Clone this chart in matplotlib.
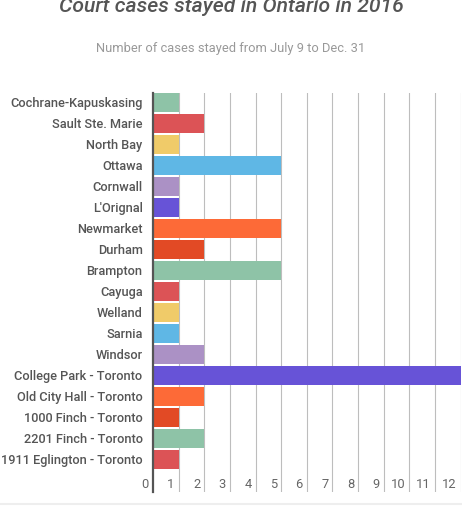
import matplotlib
matplotlib.use("Agg")
import matplotlib.pyplot as plt
import matplotlib.transforms as mtransforms

plt.rcParams['font.family'] = ['Roboto', 'DejaVu Sans']

# data
courts = ['Cochrane-Kapuskasing', 'Sault Ste. Marie', 'North Bay', 'Ottawa',
          'Cornwall', "L'Orignal", 'Newmarket', 'Durham', 'Brampton', 'Cayuga',
          'Welland', 'Sarnia', 'Windsor', 'College Park - Toronto',
          'Old City Hall - Toronto', '1000 Finch - Toronto',
          '2201 Finch - Toronto', '1911 Eglington - Toronto']
cases = [1, 2, 1, 5, 1, 1, 5, 2, 5, 1, 1, 1, 2, 12, 2, 1, 2, 1]
x_ticks = list(range(0, 13))

palette = ['#8ec3a7', '#dc5356', '#f0cb69', '#5fb7e5',
           '#ab91c5', '#6753d7', '#fd6a37', '#e24a25']
colors = [palette[i % len(palette)] for i in range(len(courts))]

W, H = 462, 508
fig = plt.figure(figsize=(W / 100, H / 100), dpi=100, facecolor='white')
ax = fig.add_axes([153 / W, 1 - 492 / H, (460.5 - 153) / W, (492 - 93) / H])

ypos = list(range(len(courts)))
ax.barh(ypos, cases, height=0.9, color=colors, zorder=3)

ax.set_xlim(0, 12)
ax.set_ylim(18.55, -0.45)

# vertical grid lines
for v in x_ticks[1:]:
    ax.axvline(v, color='#bdbdbd', lw=0.8, zorder=1)

for s in ['top', 'right', 'bottom']:
    ax.spines[s].set_visible(False)
ax.spines['left'].set_color('#555555')
ax.spines['left'].set_linewidth(1.6)
ax.spines['left'].set_zorder(4)

ax.set_xticks([])
ax.set_yticks(ypos)
ax.set_yticklabels(courts, fontsize=9.2, color='#555555', fontweight='medium')
ax.tick_params(axis='y', length=0, pad=7.5)

# x tick labels sit just left of their grid lines, inside the axes
off = mtransforms.ScaledTranslation(-4 / 100, 0, fig.dpi_scale_trans)
trans = mtransforms.blended_transform_factory(ax.transData, ax.transAxes) + off
for v in x_ticks:
    ax.text(v, 0.018, str(v), transform=trans, ha='right', va='center',
            fontsize=9.3, color='#666666')

fig.text(0.5, 1 - 12.5 / H, 'Court cases stayed in Ontario in 2016',
         ha='center', va='baseline', fontsize=15.2, style='italic',
         fontweight='medium', color='#555555')
fig.text(0.5, 1 - 52 / H, 'Number of cases stayed from July 9 to Dec. 31',
         ha='center', va='baseline', fontsize=9.25, color='#999999')

# light footer line
fig.add_artist(plt.Line2D([0, 1], [1 - 503.5 / H] * 2, transform=fig.transFigure,
                          color='#eeeeee', lw=1.5))

fig.savefig('out.png', dpi=100, facecolor='white')
